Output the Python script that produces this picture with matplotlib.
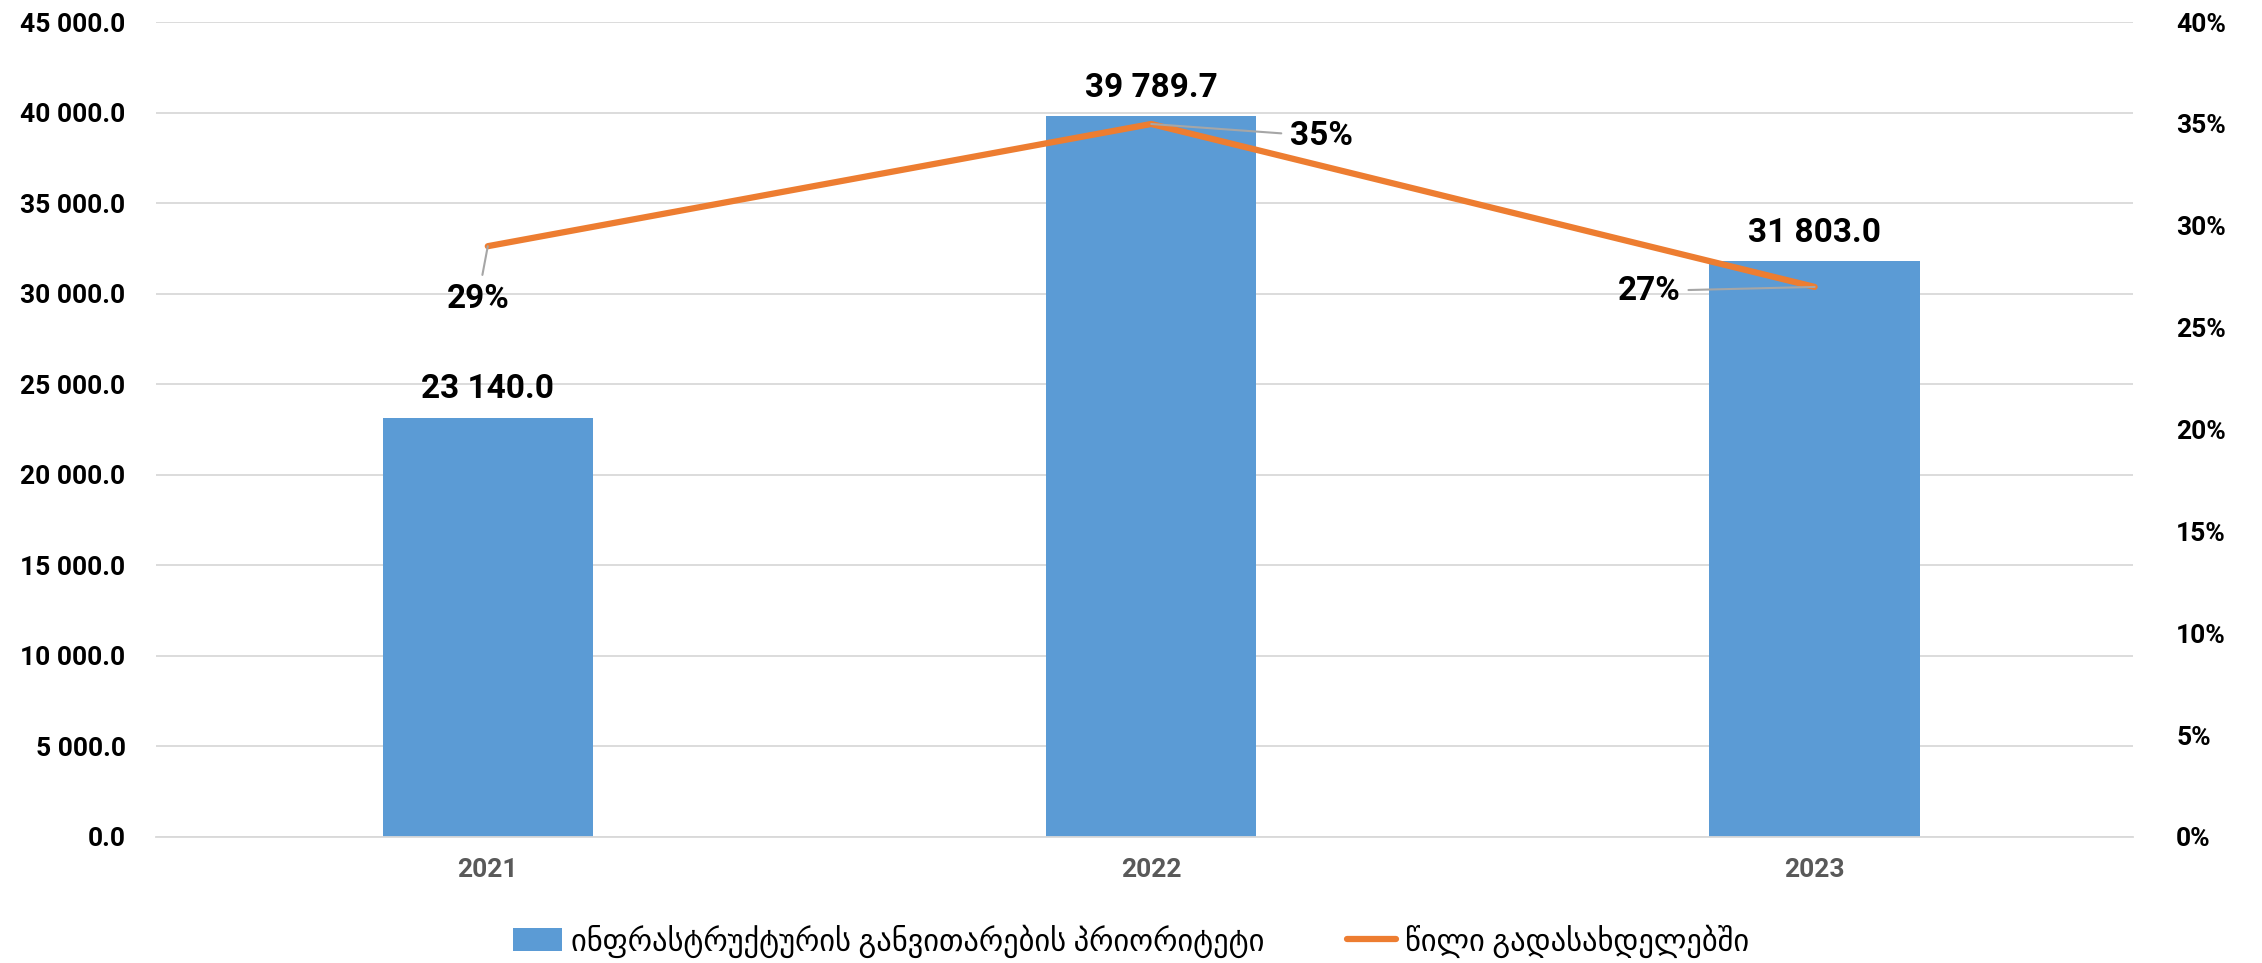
import matplotlib
matplotlib.use("Agg")
import matplotlib.pyplot as plt
from matplotlib.ticker import FuncFormatter

years = ["2021", "2022", "2023"]
bar_values = [23140.0, 39789.7, 31803.0]
share_values = [29, 35, 27]
bar_name = "ინფრასტრუქტურის განვითარების პრიორიტეტი"
line_name = "წილი გადასახდელებში"
left_ticks = [0, 5000, 10000, 15000, 20000, 25000, 30000, 35000, 40000, 45000]
right_ticks = [0, 5, 10, 15, 20, 25, 30, 35, 40]

FONT = ["Roboto", "DejaVu Sans"]
plt.rcParams["font.family"] = FONT

BLUE = "#5B9BD5"
ORANGE = "#ED7D31"

fig = plt.figure(figsize=(22.62, 9.63), dpi=100)
ax = fig.add_axes([0.069, 0.131, 0.874, 0.846])
ax2 = ax.twinx()

x = list(range(len(years)))
bars = ax.bar(x, bar_values, width=0.317, color=BLUE, zorder=2, label=bar_name)
ax.set_xlim(-0.5, 2.48)
ax.set_ylim(0, 45000)
ax.set_yticks(left_ticks)
ax.yaxis.set_major_formatter(FuncFormatter(lambda v, p: f"{v:,.1f}".replace(",", " ")))
ax.grid(axis="y", color="#D9D9D9", linewidth=1.3, zorder=0)
ax.set_axisbelow(True)
ax.set_xticks(x)
ax.set_xticklabels(years, fontsize=19, fontweight="bold", color="#595959")
for lab in ax.get_yticklabels():
    lab.set_fontsize(19)
    lab.set_fontweight("bold")
ax.tick_params(axis="both", length=0)
ax.tick_params(axis="y", pad=22)
ax.tick_params(axis="x", pad=15)
for s in ["top", "left", "right"]:
    ax.spines[s].set_visible(False)
ax.spines["bottom"].set_color("#D9D9D9")
ax.spines["bottom"].set_linewidth(1.3)

for xi, v in zip(x, bar_values):
    ax.annotate(f"{v:,.1f}".replace(",", " "), (xi, v), xytext=(0, 9), textcoords="offset points",
                ha="center", va="bottom", fontsize=24, fontweight="bold")

line, = ax2.plot(x, share_values, color=ORANGE, linewidth=4.5, zorder=3, label=line_name,
                 solid_capstyle="round")
ax2.set_ylim(0, 40)
ax2.set_yticks(right_ticks)
ax2.yaxis.set_major_formatter(FuncFormatter(lambda v, p: f"{v:.0f}%"))
for lab in ax2.get_yticklabels():
    lab.set_fontsize(19)
    lab.set_fontweight("bold")
ax2.tick_params(axis="y", length=0, pad=31)
for s in ax2.spines.values():
    s.set_visible(False)

label_pos = [(-0.015, 26.4), (1.256, 34.4), (1.75, 26.8)]
for xi, v, (lx, ly) in zip(x, share_values, label_pos):
    ax2.annotate(f"{v}%", (xi, v), xytext=(lx, ly), textcoords="data",
                 ha="center", va="center", fontsize=24, fontweight="bold",
                 arrowprops=dict(arrowstyle="-", color="#A6A6A6", lw=1.5,
                                 shrinkA=4, shrinkB=0))

fig.legend([bars, line], [bar_name, line_name], loc="center", bbox_to_anchor=(0.5, 0.023),
           ncol=2, frameon=False, handlelength=1.6, handleheight=0.8,
           columnspacing=2.7, handletextpad=0.3, prop={"family": FONT, "size": 22})

fig.savefig("out.png", dpi=100)
